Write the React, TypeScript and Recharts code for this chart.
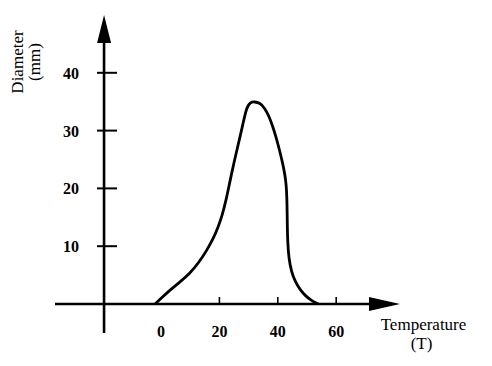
import React from 'react';
import { LineChart, Line, XAxis, YAxis, ReferenceLine } from 'recharts';

// Temperature (T) vs Diameter (mm)
const temperature = [-2, 0.5, 3.1, 6.5, 9.9, 13, 15.6, 18, 19.5, 21, 22.3, 23.6, 25, 26.5, 28, 29.3, 30.5, 32, 33.9, 35.5, 36.9, 38.2, 39.4, 40.6, 41.7, 42.5, 42.9, 43.1, 43.2, 43.25, 43.4, 43.8, 44.6, 46, 47.6, 49.5, 51.5, 53.9];
const diameter = [0, 1.2, 2.4, 3.8, 5.3, 7.2, 9.2, 11.4, 13.2, 15.4, 18, 21.2, 24.5, 27.7, 31, 34, 34.9, 35, 34.8, 33.9, 32.6, 30.8, 28.9, 26.6, 24.3, 22.2, 20.5, 18.5, 16, 13.5, 10.5, 7.9, 5.7, 3.8, 2.5, 1.4, 0.6, 0];
const xTicks = [0, 20, 40, 60];
const yTicks = [10, 20, 30, 40];
const xTitle = 'Temperature';
const xUnit = '(T)';
const yTitle = 'Diameter';
const yUnit = '(mm)';

const data = temperature.map((t, i) => ({ t, d: diameter[i] }));

const FONT = '"Liberation Serif", "Times New Roman", serif';

const XTick = (props: any) => {
  const { x, y, payload } = props;
  return (
    <g>
      {payload.value !== 0 && <line x1={x} y1={y - 7} x2={x} y2={y} stroke="#000" strokeWidth={1.6} />}
      <text x={x} y={y + 33} textAnchor="middle" fontFamily={FONT} fontSize={16} fontWeight={600} fill="#000">
        {payload.value}
      </text>
    </g>
  );
};

const YTick = (props: any) => {
  const { x, y, payload } = props;
  return (
    <g>
      <line x1={x + 42} y1={y} x2={x + 62} y2={y} stroke="#000" strokeWidth={2} />
      <text x={x + 24} y={y + 6} textAnchor="end" fontFamily={FONT} fontSize={16} fontWeight={600} fill="#000">
        {payload.value}
      </text>
    </g>
  );
};

const HArrow = (props: any) => {
  const { x1, y1, x2, y2 } = props;
  return (
    <g>
      <line x1={x1} y1={y1} x2={x2 - 28} y2={y2} stroke="#000" strokeWidth={2.6} />
      <polygon points={`${x2 - 31},${y2 - 7} ${x2},${y2} ${x2 - 31},${y2 + 7}`} fill="#000" />
    </g>
  );
};

const VArrow = (props: any) => {
  const { x1, y1, x2, y2 } = props;
  const top = Math.min(y1, y2);
  const bottom = Math.max(y1, y2);
  return (
    <g>
      <line x1={x1} y1={bottom} x2={x2} y2={top + 25} stroke="#000" strokeWidth={2.6} />
      <polygon points={`${x1 - 7},${top + 28} ${x1},${top} ${x1 + 7},${top + 28}`} fill="#000" />
    </g>
  );
};

const YTitle = () => (
  <g fontFamily={FONT} fill="#000">
    <text transform="translate(22.5,62) rotate(-90)" textAnchor="middle" fontSize={17}>{yTitle}</text>
    <text transform="translate(40,62) rotate(-90)" textAnchor="middle" fontSize={17}>{yUnit}</text>
  </g>
);

const XTitle = () => (
  <g fontFamily={FONT} fill="#000">
    <text x={423.5} y={330} textAnchor="middle" fontSize={17}>{xTitle}</text>
    <text x={421.5} y={349} textAnchor="middle" fontSize={17}>{xUnit}</text>
  </g>
);

export default function App() {
  return (
    <div style={{ position: 'absolute', left: 0, top: 0, width: 492, height: 366, background: '#fff' }}>
      <LineChart width={492} height={366} data={data} margin={{ top: 15, right: 92, bottom: 32, left: 15 }}>
        <XAxis
          dataKey="t"
          type="number"
          domain={[-36.3, 81.85]}
          allowDataOverflow
          ticks={xTicks}
          height={30}
          axisLine={false}
          tickLine={false}
          tickSize={0}
          tickMargin={0}
          tick={XTick}
          interval={0}
          label={XTitle}
        />
        <YAxis
          type="number"
          domain={[0, 50]}
          allowDataOverflow
          ticks={yTicks}
          width={40}
          axisLine={false}
          tickLine={false}
          tickSize={0}
          tickMargin={0}
          tick={YTick}
          interval={0}
          label={YTitle}
        />
        <ReferenceLine
          segment={[{ x: -36.3, y: 0 }, { x: 81.85, y: 0 }]}
          ifOverflow="visible"
          stroke="#000"
          shape={HArrow}
        />
        <ReferenceLine
          segment={[{ x: -19.5, y: -5 }, { x: -19.5, y: 50 }]}
          ifOverflow="visible"
          stroke="#000"
          shape={VArrow}
        />
        <Line
          type="basis"
          dataKey="d"
          stroke="#000"
          strokeWidth={2.8}
          dot={false}
          isAnimationActive={false}
        />
      </LineChart>
    </div>
  );
}
